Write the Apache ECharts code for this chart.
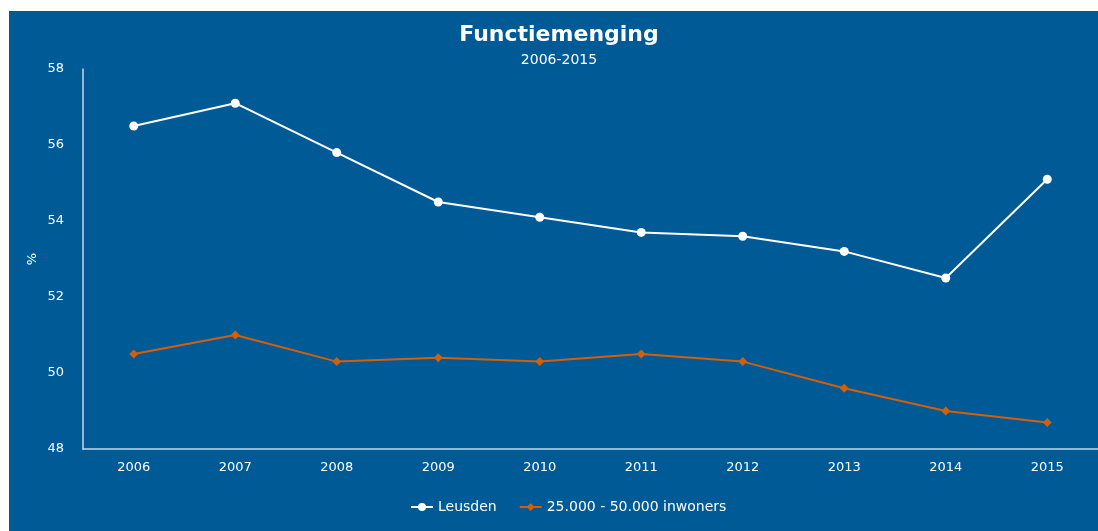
<!DOCTYPE html>
<html>
<head>
<meta charset="utf-8">
<script src="https://cdn.jsdelivr.net/npm/echarts@6/dist/echarts.min.js"></script>
<style>
  html, body { margin: 0; padding: 0; background: #fff; }
  #chart { position: absolute; left: 9px; top: 11px; width: 1089px; height: 520px; background: #005a96; }
</style>
</head>
<body>
<div id="chart"></div>
<script>
// data
const years = ['2006', '2007', '2008', '2009', '2010', '2011', '2012', '2013', '2014', '2015']
const leusden = [56.5, 57.1, 55.8, 54.5, 54.1, 53.7, 53.6, 53.2, 52.5, 55.1]
const gemeenten = [50.5, 51.0, 50.3, 50.4, 50.3, 50.5, 50.3, 49.6, 49.0, 48.7]

const font = 'DejaVu Sans'
const axisColor = '#c5d6e6'

const chart = echarts.init(document.getElementById('chart'))

const option = {
  animation: false,
  textStyle: { fontFamily: font },
  title: {
    text: 'Functiemenging',
    subtext: '2006-2015',
    left: 545,
    top: 8,
    textAlign: 'center',
    itemGap: 7,
    textStyle: { color: '#fff', fontSize: 22, fontWeight: 'bold', fontFamily: font },
    subtextStyle: { color: '#fff', fontSize: 14, fontFamily: font }
  },
  legend: {
    bottom: 12,
    left: 396,
    itemWidth: 22,
    itemHeight: 10,
    itemGap: 22,
    textStyle: { color: '#fff', fontSize: 14, fontFamily: font },
    data: ['Leusden', '25.000 - 50.000 inwoners']
  },
  grid: { left: 74, right: 0, top: 58, bottom: 82 },
  xAxis: {
    type: 'category',
    data: years,
    boundaryGap: true,
    axisLine: { lineStyle: { color: axisColor, width: 1.5 } },
    axisTick: { show: false },
    axisLabel: { color: '#fff', fontSize: 13, margin: 12 }
  },
  yAxis: {
    type: 'value',
    min: 48,
    max: 58,
    interval: 2,
    name: '%',
    nameLocation: 'middle',
    nameGap: 44,
    nameMoveOverlap: false,
    nameRotate: 90,
    nameTextStyle: { color: '#fff', fontSize: 13 },
    splitLine: { show: false },
    axisLine: { show: true, lineStyle: { color: axisColor, width: 1.5 } },
    axisTick: { show: false },
    axisLabel: { color: '#fff', fontSize: 13, margin: 19 }
  },
  series: [
    {
      name: 'Leusden',
      type: 'line',
      data: leusden,
      symbol: 'circle',
      symbolSize: 9,
      lineStyle: { color: '#fff', width: 2 },
      itemStyle: { color: '#fff' }
    },
    {
      name: '25.000 - 50.000 inwoners',
      type: 'line',
      data: gemeenten,
      symbol: 'diamond',
      symbolSize: 9,
      lineStyle: { color: '#d35f0a', width: 2 },
      itemStyle: { color: '#d35f0a' }
    }
  ]
}

chart.setOption(option)
</script>
</body>
</html>
